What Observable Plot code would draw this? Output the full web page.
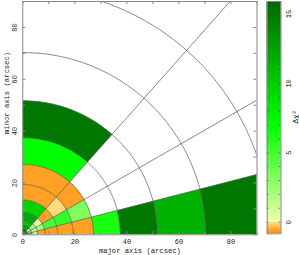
<!DOCTYPE html>
<html>
<head>
<meta charset="utf-8">
<script src="https://cdn.jsdelivr.net/npm/d3@7"></script>
<script src="https://cdn.jsdelivr.net/npm/@observablehq/plot@0.6"></script>
<style>
  body { margin: 0; background: white; }
  #wrap { position: relative; width: 299px; height: 255px; }
  #wrap svg { position: absolute; left: 0; top: 0; }
</style>
</head>
<body>
<div id="wrap"></div>
<script>
// Sector boundaries (degrees) and ring radii (arcsec)
const sectorAngles = [0, 14.5, 30, 48.5, 90];
const ringRadii = [0, 1.9, 3.5, 5.7, 8.6, 13.4, 19.4, 27.2, 37.5, 51.7, 70.3, 95];
// Delta chi^2 per ring (inner -> outer) for each sector; null = not drawn
const sector1 = [14, 9, 1.5, -0.6, -0.6, -0.6, -0.6, 6.3, 15, 11.6, 15];
const sector2 = [12, 2.5, 1, 2.3, 5, 5.5, 3.3, null, null, null, null];
const sector3 = [10, 0.8, 1.8, 0.4, -0.6, -0.05, -0.6, null, null, null, null];
const sector4 = [14.5, 12.5, 10.5, 12, 9.5, -0.6, -0.6, 7, 15, null, null];
const sectors = [sector1, sector2, sector3, sector4];

const axisTicks = [0, 10, 20, 30, 40, 50, 60, 70, 80, 90];
const axisLabels = [0, 20, 40, 60, 80];
const cbTicks = d3.range(0, 16);
const cbLabels = [0, 5, 10, 15];
const cbDomain = [-0.84, 15.9];

const colorOpts = {
  type: "linear",
  domain: [-0.84, -0.01, 0, 7, 15.9],
  range: ["#ff8800", "#ffe080", "#f0ffb0", "#00ff00", "#006800"],
  interpolate: "rgb",
  clamp: true
};

const rad = Math.PI / 180;
// Build cell polygons
const cellPts = [];
sectors.forEach((vals, s) => {
  const a0 = sectorAngles[s], a1 = sectorAngles[s + 1];
  vals.forEach((v, k) => {
    if (v == null) return;
    const r0 = ringRadii[k], r1 = ringRadii[k + 1];
    const id = s + "-" + k;
    const n = 30;
    for (let i = 0; i <= n; i++) {
      const a = (a0 + (a1 - a0) * i / n) * rad;
      cellPts.push({id, v, x: r1 * Math.cos(a), y: r1 * Math.sin(a)});
    }
    if (r0 === 0) cellPts.push({id, v, x: 0, y: 0});
    else for (let i = n; i >= 0; i--) {
      const a = (a0 + (a1 - a0) * i / n) * rad;
      cellPts.push({id, v, x: r0 * Math.cos(a), y: r0 * Math.sin(a)});
    }
  });
});
// Arcs
const arcPts = [];
ringRadii.slice(1).forEach(r => {
  for (let i = 0; i <= 180; i++) {
    const a = (90 * i / 180) * rad;
    arcPts.push({r, x: r * Math.cos(a), y: r * Math.sin(a)});
  }
});
const rays = sectorAngles.slice(1, -1).map(a => ({a}));

const font = "'Liberation Mono', 'DejaVu Sans Mono', monospace";
const gridColor = "#555";
const frameColor = "#888";

const main = Plot.plot({
  width: 299, height: 255,
  marginLeft: 22.3, marginRight: 42.5, marginTop: 1, marginBottom: 20.7,
  x: {domain: [0, 90], axis: null},
  y: {domain: [0, 90], axis: null},
  color: colorOpts,
  style: {fontFamily: font, fontSize: "7px", background: "transparent", overflow: "visible"},
  marks: [
    Plot.line(cellPts, {x: "x", y: "y", z: "id", fill: "v", stroke: "v", strokeWidth: 0.3, clip: true}),
    Plot.line(arcPts, {x: "x", y: "y", z: "r", stroke: gridColor, strokeWidth: 0.7, clip: true}),
    Plot.link(rays, {x1: 0, y1: 0, x2: d => 140 * Math.cos(d.a * rad), y2: d => 140 * Math.sin(d.a * rad), stroke: gridColor, strokeWidth: 0.7, clip: true}),
    Plot.ruleX(axisTicks, {x: d => d, y1: 0, y2: 1.2, stroke: frameColor}),
    Plot.ruleX(axisTicks, {x: d => d, y1: 88.8, y2: 90, stroke: frameColor}),
    Plot.ruleY(axisTicks, {y: d => d, x1: 0, x2: 1.2, stroke: frameColor}),
    Plot.ruleY(axisTicks, {y: d => d, x1: 88.8, x2: 90, stroke: frameColor}),
    Plot.frame({stroke: frameColor}),
    Plot.text(axisLabels, {x: d => d, y: 0, dy: 6.5, text: d => String(d), fill: "#222"}),
    Plot.text(axisLabels, {x: 0, y: d => d, dx: -8, rotate: -90, text: d => String(d), fill: "#222"}),
    Plot.text(["major axis (arcsec)"], {x: 45, y: 0, dy: 15.8, text: d => d, fontSize: 7.2, fill: "#222"}),
    Plot.text(["minor axis (arcsec)"], {x: 0, y: 54.7, dx: -16, rotate: -90, text: d => d, fontSize: 7.2, fill: "#222"})
  ]
});

const step = 0.05;
const cbSteps = d3.range(cbDomain[0], cbDomain[1], step);
const bar = Plot.plot({
  width: 299, height: 255,
  marginLeft: 266.7, marginRight: 18.5, marginTop: 1, marginBottom: 21.7,
  x: {domain: [0, 1], axis: null},
  y: {domain: cbDomain, axis: null},
  color: colorOpts,
  style: {fontFamily: font, fontSize: "7px", background: "transparent", overflow: "visible"},
  marks: [
    Plot.rect(cbSteps, {x1: 0, x2: 1, y1: d => d, y2: d => Math.min(d + step, cbDomain[1]), fill: d => d + step / 2, stroke: d => d + step / 2, strokeWidth: 0.8, clip: true}),
    Plot.ruleY(cbTicks, {y: d => d, x1: 0, x2: 0.14, stroke: "#555", strokeWidth: 0.7}),
    Plot.ruleY(cbTicks, {y: d => d, x1: 0.86, x2: 1, stroke: "#555", strokeWidth: 0.7}),
    Plot.frame({stroke: frameColor}),
    Plot.text(cbLabels, {x: 1, y: d => d, dx: 8, rotate: -90, text: d => String(d), fill: "#222"}),
    Plot.text(["Δχ²"], {x: 1, y: 7.6, dx: 15, rotate: -90, text: d => d, fontSize: 7.5, fill: "#222"})
  ]
});

const wrap = document.getElementById("wrap");
wrap.appendChild(main);
wrap.appendChild(bar);
</script>
</body>
</html>
